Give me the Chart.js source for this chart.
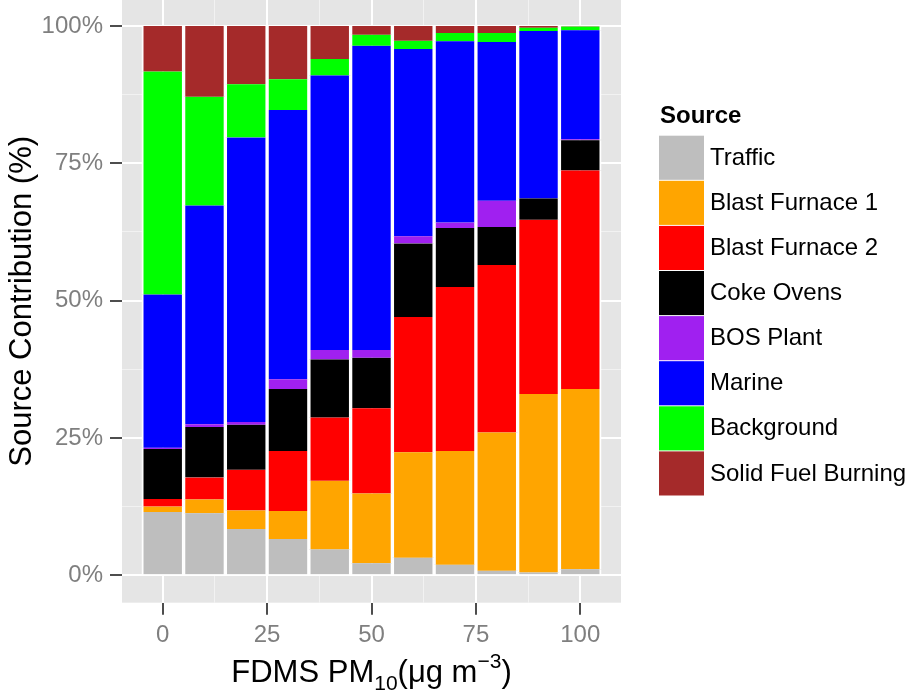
<!DOCTYPE html>
<html>
<head>
<meta charset="utf-8">
<script src="https://cdn.jsdelivr.net/npm/chart.js@4.4.1/dist/chart.umd.min.js"></script>
<style>
body { margin: 0; background: #fff; }
#wrap { width: 907px; height: 692px; position: relative; }
</style>
</head>
<body>
<div id="wrap"><canvas id="chartContainer_Source"></canvas></div>
<script>
var pmLevels = [0, 10, 20, 30, 40, 50, 60, 70, 80, 90, 100];
var sourceNames = ['Traffic', 'Blast Furnace 1', 'Blast Furnace 2', 'Coke Ovens', 'BOS Plant', 'Marine', 'Background', 'Solid Fuel Burning'];
var sourceColors = ['#BEBEBE', '#FFA500', '#FF0000', '#000000', '#A020F0', '#0000FF', '#00FF00', '#A52A2A'];

// contribution (%) of each source, one value per PM10 level
var traffic       = [11.5, 11.3,  8.4,  6.6,  4.7,  2.2,  3.2,  1.9,  0.8,  0.5,  1.1];
var blastFurnace1 = [ 1.0,  2.5,  3.4,  5.1, 12.5, 12.7, 19.2, 20.7, 25.2, 32.5, 32.8];
var blastFurnace2 = [ 1.4,  4.0,  7.4, 10.9, 11.5, 15.5, 24.6, 29.9, 30.5, 31.7, 39.8];
var cokeOvens     = [ 9.1,  9.2,  8.2, 11.3, 10.6,  9.2, 13.4, 10.7,  6.9,  3.9,  5.5];
var bosPlant      = [ 0.2,  0.5,  0.5,  1.8,  1.7,  1.4,  1.3,  1.0,  4.8,  0.0,  0.2];
var marine        = [27.9, 39.8, 51.8, 49.0, 50.0, 55.4, 34.1, 33.0, 28.9, 30.5, 19.8];
var background    = [40.6, 19.8,  9.7,  5.6,  3.0,  2.0,  1.5,  1.5,  1.6,  0.6,  0.7];
var solidFuel     = [ 8.3, 12.9, 10.6,  9.7,  6.0,  1.6,  2.7,  1.3,  1.3,  0.3,  0.1];

var xTicks = [0, 25, 50, 75, 100];
var yTicks = [0, 25, 50, 75, 100];
var xMinor = [12.5, 37.5, 62.5, 87.5];
var yMinor = [12.5, 37.5, 62.5, 87.5];

var fontFam = '"Liberation Sans", Arial, sans-serif';
Chart.defaults.font.family = fontFam;

function allTicks(major, minor) {
    return major.concat(minor).sort(function(a, b) { return a - b; }).map(function(v) { return { value: v }; });
}

function gridOpts(major) {
    return {
        offset: false,
        color: function(c) { return major.indexOf(c.tick.value) >= 0 ? '#FFFFFF' : '#F2F2F2'; },
        lineWidth: function(c) { return major.indexOf(c.tick.value) >= 0 ? 2 : 1; },
        tickColor: function(c) { return major.indexOf(c.tick.value) >= 0 ? '#4D4D4D' : 'rgba(0,0,0,0)'; },
        tickLength: 12,
        tickWidth: 2
    };
}

var seriesList = [traffic, blastFurnace1, blastFurnace2, cokeOvens, bosPlant, marine, background, solidFuel];
var chartDatasets = [];
for (var k = 0; k < seriesList.length; k++) {
    var pts = [];
    for (var i = 0; i < pmLevels.length; i++) {
        pts.push({ x: pmLevels[i], y: seriesList[k][i] });
    }
    chartDatasets.push({
        label: sourceNames[k],
        backgroundColor: sourceColors[k],
        borderColor: '#FFFFFF',
        borderWidth: { left: 2, right: 2, top: 0, bottom: 0 },
        barPercentage: 1,
        categoryPercentage: 1,
        data: pts
    });
}

var sourcePlugin = {
    id: 'sourcePlugin',
    beforeDraw: function(chart) {
        var a = chart.chartArea, ctx = chart.ctx;
        ctx.save();
        ctx.fillStyle = '#E5E5E5';
        ctx.fillRect(a.left, a.top, a.right - a.left, a.bottom - a.top);
        ctx.restore();
    },
    afterDraw: function(chart) {
        var a = chart.chartArea, ctx = chart.ctx;

        // y axis title
        ctx.save();
        ctx.fillStyle = '#000000';
        ctx.font = '31px ' + fontFam;
        ctx.textAlign = 'center';
        ctx.textBaseline = 'alphabetic';
        ctx.translate(31, (a.top + a.bottom) / 2);
        ctx.rotate(-Math.PI / 2);
        ctx.fillText('Source Contribution (%)', 0, 0);
        ctx.restore();

        // x axis title with sub/superscript
        var parts = [['FDMS PM', 31, 0], ['10', 21, 8], ['(\u03BCg m', 31, 0], ['\u22123', 21, -14], [')', 31, 0]];
        ctx.save();
        ctx.fillStyle = '#000000';
        ctx.textAlign = 'left';
        ctx.textBaseline = 'alphabetic';
        var total = 0;
        parts.forEach(function(p) {
            ctx.font = p[1] + 'px ' + fontFam;
            p.push(ctx.measureText(p[0]).width);
            total += p[3];
        });
        var x = (a.left + a.right) / 2 - total / 2;
        parts.forEach(function(p) {
            ctx.font = p[1] + 'px ' + fontFam;
            ctx.fillText(p[0], x, 682 + p[2]);
            x += p[3];
        });
        ctx.restore();

        // legend
        ctx.save();
        ctx.fillStyle = '#000000';
        ctx.font = 'bold 24px ' + fontFam;
        ctx.textAlign = 'left';
        ctx.textBaseline = 'alphabetic';
        ctx.fillText('Source', 660, 123);
        ctx.font = '24px ' + fontFam;
        ctx.textBaseline = 'middle';
        var rowH = 45.1, top = 135.7;
        chart.data.datasets.forEach(function(ds, j) {
            var y0 = top + j * rowH;
            ctx.fillStyle = ds.backgroundColor;
            ctx.fillRect(659, y0, 45, rowH - 1);
            ctx.fillStyle = '#000000';
            ctx.fillText(ds.label, 710, y0 + rowH / 2);
        });
        ctx.restore();
    }
};

var ctx = document.getElementById('chartContainer_Source');
var chart = new Chart(ctx, {
    type: 'bar',
    data: { datasets: chartDatasets },
    plugins: [sourcePlugin],
    options: {
        animation: false,
        responsive: true,
        maintainAspectRatio: false,
        layout: { padding: { left: 0, right: 286, top: 0, bottom: 0 } },
        plugins: { legend: { display: false }, tooltip: { enabled: false } },
        scales: {
            x: {
                type: 'linear',
                stacked: true,
                min: -9.75,
                max: 109.75,
                offset: false,
                afterBuildTicks: function(scale) { scale.ticks = allTicks(xTicks, xMinor); },
                afterFit: function(scale) {
                    scale.height = 89.3;
                    scale.paddingLeft = 0;
                    scale.paddingRight = 0;
                },
                grid: gridOpts(xTicks),
                border: { display: false },
                ticks: {
                    autoSkip: false,
                    maxRotation: 0,
                    padding: 6,
                    color: '#7F7F7F',
                    font: { size: 24 },
                    callback: function(v) { return xTicks.indexOf(v) >= 0 ? String(v) : ''; }
                }
            },
            y: {
                stacked: true,
                min: -5,
                max: 104.73,
                afterBuildTicks: function(scale) { scale.ticks = allTicks(yTicks, yMinor); },
                afterFit: function(scale) {
                    scale.width = 122;
                    scale.paddingTop = 0;
                    scale.paddingBottom = 0;
                },
                grid: gridOpts(yTicks),
                border: { display: false },
                ticks: {
                    autoSkip: false,
                    padding: 7,
                    color: '#7F7F7F',
                    font: { size: 24 },
                    callback: function(v) { return yTicks.indexOf(v) >= 0 ? v + '%' : ''; }
                }
            }
        }
    }
});
</script>
</body>
</html>
